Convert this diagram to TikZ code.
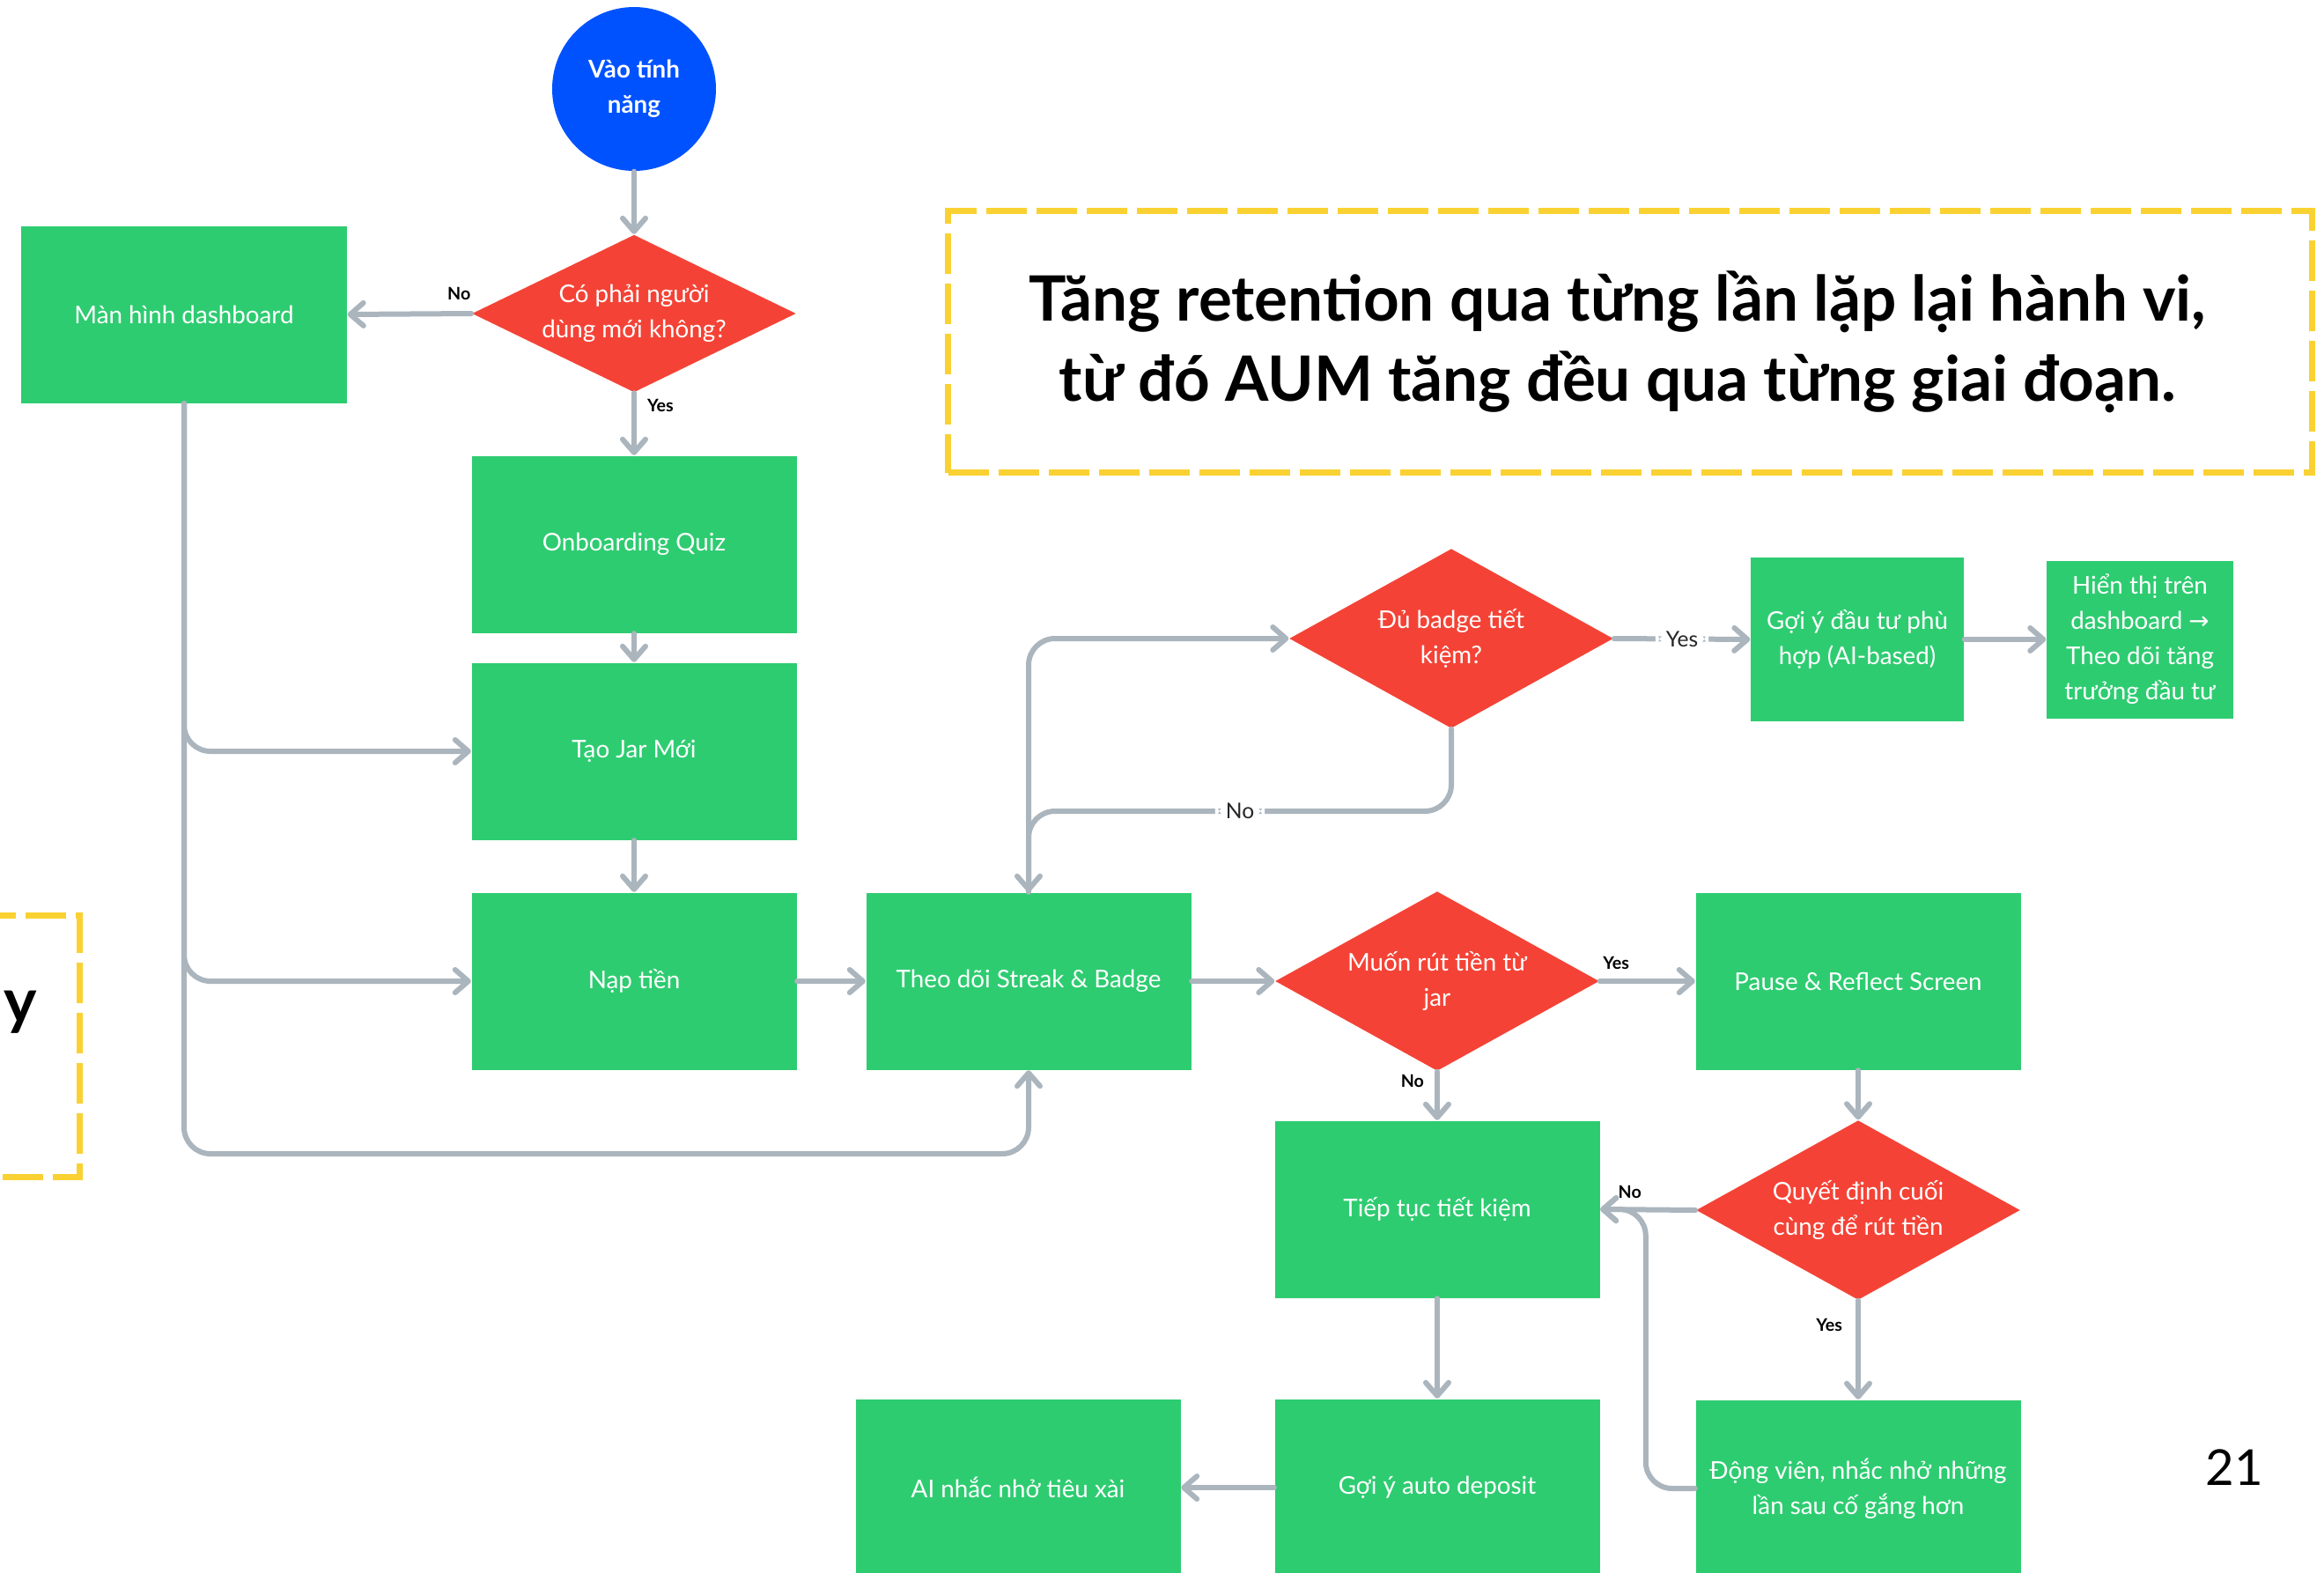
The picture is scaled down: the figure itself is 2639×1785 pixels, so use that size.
\documentclass[tikz,border=0pt]{standalone}
\usepackage{fontspec}
\setmainfont{Lato}
\newfontfamily\arrowfont{DejaVu Sans}
\usepackage{tikz}
\usetikzlibrary{arrows.meta,positioning,shapes.geometric}
\definecolor{flowgreen}{RGB}{46,204,113}
\definecolor{flowred}{RGB}{244,67,54}
\definecolor{flowblue}{RGB}{0,82,255}
\definecolor{flowline}{RGB}{171,181,189}
\definecolor{noteyellow}{RGB}{250,209,50}
\newcommand{\boxtext}{\fontsize{7.9}{11.4}\selectfont}
\tikzset{
  startcircle/.style={circle, fill=flowblue, minimum size=18.6mm, inner sep=0pt, align=center, text=white, font=\boxtext\bfseries},
  proc/.style={rectangle, fill=flowgreen, minimum width=36.9mm, minimum height=20.1mm, inner sep=0pt, align=center, text=white, font=\boxtext},
  decision/.style={diamond, aspect=2, fill=flowred, minimum width=36.8mm, minimum height=20.4mm, inner sep=0pt, align=center, text=white, font=\boxtext},
  arrow/.style={draw=flowline, line width=0.6mm, line cap=round, rounded corners=3mm, -{Straight Barb[length=1.5mm,width=2.6mm,round]}},
  branchlbl/.style={font=\fontsize{5.6}{6}\selectfont\bfseries, text=black, inner sep=0pt},
  linelbl/.style={fill=white, font=\fontsize{7}{8}\selectfont, text=black!85, inner xsep=1.2mm, inner ysep=0.5mm},
  notebox/.style={draw=noteyellow, line width=0.75mm, dash pattern=on 4.6mm off 1.1mm},
  titletext/.style={align=center, font=\fontsize{20.2}{26}\selectfont\bfseries, text=black}
}
\begin{document}
\begin{tikzpicture}[x=0.1mm,y=-0.1mm]
  \useasboundingbox (0,0) rectangle (2639,1785);

  \node[startcircle] (start) at (720,101) {Vào tính\\năng};
  \node[decision, minimum height=17.9mm] (newuser) at (720,356) {Có phải người\\dùng mới không?};
  \node[proc, minimum width=37mm] (dash) at (209,357) {Màn hình dashboard};
  \node[proc] (quiz) at (720,618) {Onboarding Quiz};
  \node[proc] (newjar) at (720,853) {Tạo Jar Mới};
  \node[proc] (deposit) at (720,1114) {Nạp tiền};
  \node[proc] (streak) at (1168,1114) {Theo dõi Streak \& Badge};

  \node[decision] (badge) at (1648,725) {Đủ badge tiết\\kiệm?};
  \node[proc, minimum width=24.2mm, minimum height=18.6mm] (invest) at (2109,726) {Gợi ý đầu tư phù\\hợp (AI-based)};
  \node[proc, minimum width=21.2mm, minimum height=17.9mm] (showdash) at (2430,726) {Hiển thị trên\\dashboard {\arrowfont →}\\Theo dõi tăng\\trưởng đầu tư};

  \node[decision] (withdraw) at (1632,1114) {Muốn rút tiền từ\\jar};
  \node[proc] (pause) at (2110,1114) {Pause \& Reflect Screen};
  \node[decision] (decide) at (2110,1374) {Quyết định cuối\\cùng để rút tiền};
  \node[proc] (keepsave) at (1632,1373) {Tiếp tục tiết kiệm};
  \node[proc] (autodep) at (1632,1689) {Gợi ý auto deposit};
  \node[proc] (aiwarn) at (1156,1689) {AI nhắc nhở tiêu xài};
  \node[proc] (motivate) at (2110,1690) {Động viên, nhắc nhở những\\lần sau cố gắng hơn};

  \node[notebox, minimum width=154.9mm, minimum height=29.7mm] (goal) at (1851,388) {};
  \node[titletext] (goaltext) at (1837,388) {Tăng retention qua từng lần lặp lại hành vi,\\từ đó AUM tăng đều qua từng giai đoạn.};
  \node[notebox, minimum width=60mm, minimum height=29.7mm, anchor=east] (sidenote) at (94,1188) {};
  \node[anchor=base west, inner sep=0pt, font=\fontsize{20.2}{26}\selectfont\bfseries] (sidey) at (4,1161) {y};
  \node[font=\fontsize{16}{16}\selectfont] (pagenum) at (2537,1666) {21};

  \draw[arrow] (start.south) -- (newuser.north);
  \draw[arrow] (newuser.west) -- node[branchlbl, pos=0.1, above=1.2mm] (newno) {No} (dash.east);
  \draw[arrow] (newuser.south) -- node[branchlbl, pos=0.2, right=1.2mm] (newyes) {Yes} (quiz.north);
  \draw[arrow] (quiz.south) -- (newjar.north);
  \draw[arrow] (newjar.south) -- (deposit.north);
  \draw[arrow] (dash.south) |- (newjar.west);
  \draw[arrow] (dash.south) |- (deposit.west);
  \coordinate (loopcorner) at (209,1310);
  \draw[arrow] (dash.south) -- (loopcorner) -| (streak.south);
  \draw[arrow] (deposit.east) -- (streak.west);
  \draw[arrow] (streak.east) -- (withdraw.west);
  \draw[arrow] (streak.north) |- (badge.west);
  \coordinate (nocorner) at (1168,921);
  \draw[arrow] (badge.south) |- node[linelbl, pos=0.75] (badgeno) {No} (nocorner) -- (streak.north);
  \draw[arrow] (badge.east) -- node[linelbl] (badgeyes) {Yes} (invest.west);
  \draw[arrow] (invest.east) -- (showdash.west);
  \draw[arrow] (withdraw.east) -- node[branchlbl, pos=0.17, above=1mm] (wdyes) {Yes} (pause.west);
  \draw[arrow] (withdraw.south) -- node[branchlbl, pos=0.2, left=1.2mm] (wdno) {No} (keepsave.north);
  \draw[arrow] (pause.south) -- (decide.north);
  \draw[arrow] (decide.west) -- node[branchlbl, pos=0.69, above=1mm] (decno) {No} (keepsave.east);
  \draw[arrow] (decide.south) -- node[branchlbl, pos=0.25, left=1.5mm] (decyes) {Yes} (motivate.north);
  \draw[arrow] (motivate.west) -- ++(-56,0) |- (keepsave.east);
  \draw[arrow] (keepsave.south) -- (autodep.north);
  \draw[arrow] (autodep.west) -- (aiwarn.east);
\end{tikzpicture}
\end{document}
